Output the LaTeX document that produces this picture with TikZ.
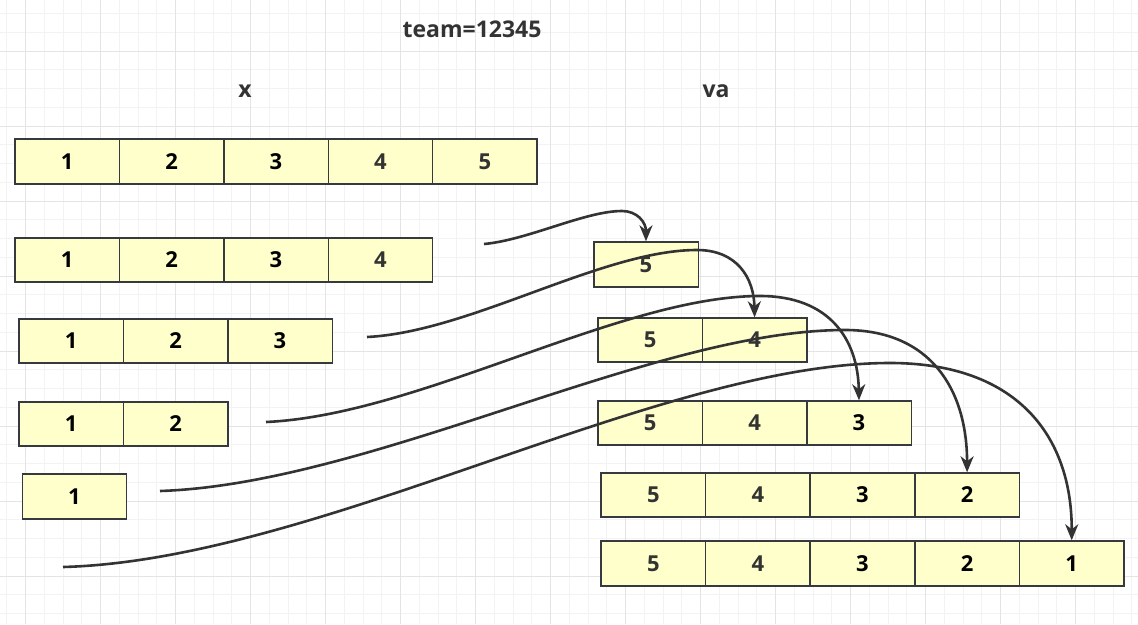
\documentclass[tikz,border=0pt]{standalone}
\usepackage{fontspec}
\setmainfont{Open Sans}
\usetikzlibrary{arrows.meta}
\definecolor{cellfill}{HTML}{FFFFCC}
\definecolor{cellline}{HTML}{36393D}
\definecolor{darktext}{HTML}{333333}
\definecolor{gridminor}{HTML}{F3F3F3}
\definecolor{gridmajor}{HTML}{E4E4E4}
\newcommand\dg[1]{\ifnum#1<4\textcolor{black}{#1}\else\textcolor{darktext}{#1}\fi}
\tikzset{
  cell/.style={draw=cellline, line width=1.4pt, fill=cellfill, inner sep=0pt,
    minimum width=104.4pt, minimum height=45pt, font=\bfseries\fontsize{22}{24}\selectfont},
  title/.style={text=darktext, font=\bfseries\fontsize{23}{25}\selectfont},
  move/.style={draw=darktext, line width=2.6pt, -{Stealth[length=16pt,width=13pt,inset=5pt]}},
}
\begin{document}
\begin{tikzpicture}[x=1pt,y=-1pt]
\useasboundingbox (0,0) rectangle (1138,624);
\fill[white] (0,0) rectangle (1138,624);
% grid
\foreach \k in {0,...,60} {
  \draw[gridminor, line width=1pt] ({6.95+18.75*\k},0) -- ({6.95+18.75*\k},624);
}
\foreach \k in {0,...,33} {
  \draw[gridminor, line width=1pt] (0,{13.5+18.75*\k}) -- (1138,{13.5+18.75*\k});
}
\foreach \k in {0,...,15} {
  \draw[gridmajor, line width=1pt] ({25.7+75*\k},0) -- ({25.7+75*\k},624);
}
\foreach \k in {0,...,8} {
  \draw[gridmajor, line width=1pt] (0,{51+75*\k}) -- (1138,{51+75*\k});
}
% titles
\node[title] (team) at (472,29) {team=12345};
\node[title] (xl) at (245,91) {x};
\node[title] (val) at (716,91) {va};
% left rows
\foreach \t [count=\i] in {1,2,3,4,5}
  \node[cell] (L0-\i) at ({15+104.4*(\i-0.5)},161.5) {\dg{\t}};
\foreach \t [count=\i] in {1,2,3,4}
  \node[cell, minimum height=44pt] (L1-\i) at ({15+104.4*(\i-0.5)},260) {\dg{\t}};
\foreach \t [count=\i] in {1,2,3}
  \node[cell, minimum height=44pt] (L2-\i) at ({19+104.4*(\i-0.5)},341) {\dg{\t}};
\foreach \t [count=\i] in {1,2}
  \node[cell, minimum height=44pt] (L3-\i) at ({19+104.4*(\i-0.5)},424) {\dg{\t}};
\node[cell] (L4-1) at (74.5,496.5) {\dg{1}};
% right rows
\node[cell] (R1-1) at (646,264.5) {\dg{5}};
\foreach \t [count=\i] in {5,4}
  \node[cell, minimum height=44pt] (R2-\i) at ({598+104.4*(\i-0.5)},340) {\dg{\t}};
\foreach \t [count=\i] in {5,4,3}
  \node[cell, minimum height=44pt] (R3-\i) at ({598+104.4*(\i-0.5)},423) {\dg{\t}};
\foreach \t [count=\i] in {5,4,3,2}
  \node[cell, minimum height=44pt] (R4-\i) at ({601+104.6*(\i-0.5)},495) {\dg{\t}};
\foreach \t [count=\i] in {5,4,3,2,1}
  \node[cell] (R5-\i) at ({601+104.6*(\i-0.5)},563.5) {\dg{\t}};
% connector start points
\coordinate (s1) at (484,244);
\coordinate (s2) at (367,337);
\coordinate (s3) at (266,422);
\coordinate (s4) at (160,491);
\coordinate (s5) at (63,567);
% arrows
\draw[move] (s1) .. controls (528,240) and (585,211) .. (622,211)
  .. controls (637,211) and (646,222) .. (R1-1.north);
\draw[move] (s2) .. controls (470,332) and (602,250) .. (697,250)
  .. controls (737,250) and (754,278) .. (R2-2.north);
\draw[move] (s3) .. controls (420,415) and (620,296) .. (760,296)
  .. controls (830,296) and (858,340) .. (R3-3.north);
\draw[move] (s4) .. controls (372,484) and (653,330) .. (845,330)
  .. controls (931,330) and (967,390) .. (R4-4.north);
\draw[move] (s5) .. controls (319,560) and (658,363) .. (890,363)
  .. controls (1018,363) and (1072,437) .. (R5-5.north);
\end{tikzpicture}
\end{document}
